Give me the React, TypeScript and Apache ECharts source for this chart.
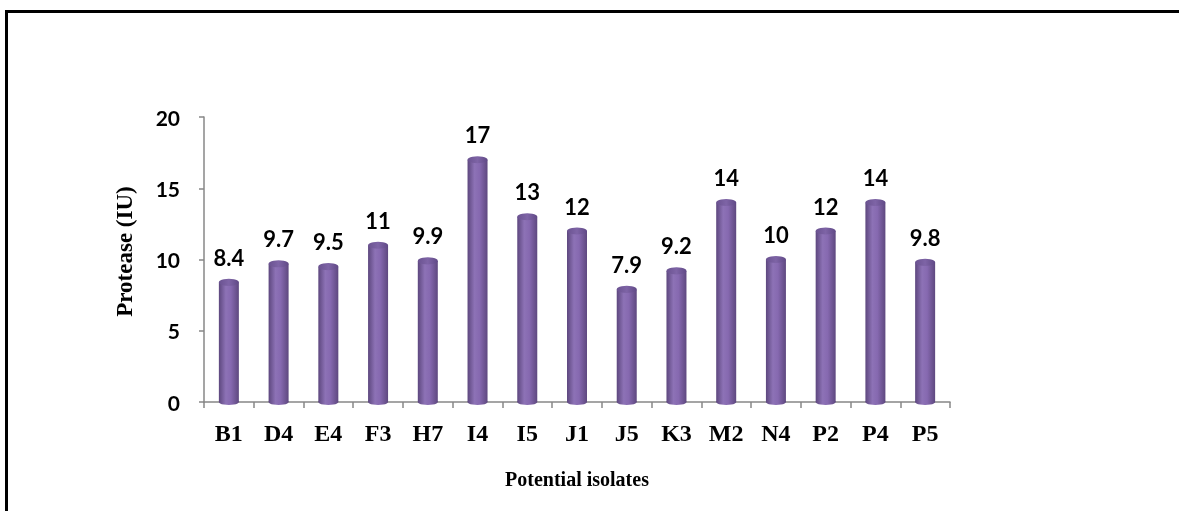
import React, { useEffect, useRef } from "react";
import * as echarts from "echarts";

const categories = ["B1", "D4", "E4", "F3", "H7", "I4", "I5", "J1", "J5", "K3", "M2", "N4", "P2", "P4", "P5"];
const values = [8.4, 9.7, 9.5, 11, 9.9, 17, 13, 12, 7.9, 9.2, 14, 10, 12, 14, 9.8];
const yTicks = [0, 5, 10, 15, 20];

export default function App() {
  const ref = useRef<HTMLDivElement>(null);
  useEffect(() => {
    if (!ref.current) return;
    const chart = echarts.init(ref.current, undefined, { renderer: "svg" });
    const bodyGrad = new echarts.graphic.LinearGradient(0, 0, 1, 0, [
      { offset: 0, color: "#5d477e" },
      { offset: 0.35, color: "#8d72b6" },
      { offset: 0.6, color: "#8669b0" },
      { offset: 1, color: "#5e487f" },
    ]);
    const capGrad = new echarts.graphic.LinearGradient(0, 0, 1, 0, [
      { offset: 0, color: "#6a5290" },
      { offset: 0.5, color: "#7e64a6" },
      { offset: 1, color: "#604986" },
    ]);
    chart.setOption({
      animation: false,
      grid: { left: 204, right: 229, top: 117, bottom: 109 },
      graphic: [
        { type: "line", shape: { x1: 5, y1: 11.5, x2: 1179, y2: 11.5 }, style: { stroke: "#000", lineWidth: 3 } },
        { type: "line", shape: { x1: 6.5, y1: 10, x2: 6.5, y2: 511 }, style: { stroke: "#000", lineWidth: 3 } },
      ],
      xAxis: {
        type: "category",
        data: categories,
        boundaryGap: true,
        axisLine: { lineStyle: { color: "#878787", width: 1.5 } },
        axisTick: { show: true, length: 6, alignWithLabel: false, lineStyle: { color: "#878787", width: 1.5 } },
        axisLabel: {
          margin: 19,
          color: "#000",
          fontFamily: "Liberation Serif",
          fontWeight: "bold",
          fontSize: 24,
        },
        name: "Potential isolates",
        nameLocation: "middle",
        nameGap: 67,
        nameTextStyle: { color: "#000", fontFamily: "Liberation Serif", fontWeight: "bold", fontSize: 20 },
      },
      yAxis: {
        type: "value",
        min: yTicks[0],
        max: yTicks[yTicks.length - 1],
        interval: 5,
        splitLine: { show: false },
        axisLine: { show: true, lineStyle: { color: "#878787", width: 1.5 } },
        axisTick: { show: true, length: 5, lineStyle: { color: "#878787", width: 1.5 } },
        axisLabel: {
          margin: 24,
          color: "#000",
          fontFamily: "Lato",
          fontWeight: "bold",
          fontSize: 21,
        },
        name: "Protease (IU)",
        nameLocation: "middle",
        nameGap: 68,
        nameRotate: 90,
        nameTextStyle: {
          color: "#000",
          fontFamily: "Liberation Serif",
          fontWeight: "bold",
          fontSize: 23,
          padding: [0, 0, 0, 16],
        },
      },
      series: [
        {
          type: "bar",
          data: values,
          barWidth: 20,
          itemStyle: { color: bodyGrad },
          label: {
            show: true,
            position: "top",
            distance: 14,
            color: "#000",
            fontFamily: "Lato",
            fontWeight: "bold",
            fontSize: 22,
          },
          z: 2,
        },
        {
          type: "pictorialBar",
          data: values,
          symbol: "circle",
          symbolSize: [20, 7],
          symbolPosition: "end",
          symbolOffset: [0, "-50%"],
          itemStyle: { color: capGrad },
          z: 3,
        },
        {
          type: "pictorialBar",
          data: values,
          symbol: "circle",
          symbolSize: [20, 6],
          symbolPosition: "start",
          symbolOffset: [0, "50%"],
          itemStyle: { color: bodyGrad },
          z: 1,
        },
      ],
    });
    return () => chart.dispose();
  }, []);
  return <div ref={ref} style={{ position: "fixed", left: 0, top: 0, width: 1179, height: 511 }} />;
}
